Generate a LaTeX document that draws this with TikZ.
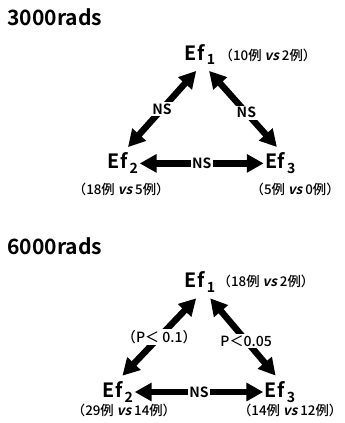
\documentclass[tikz,border=0pt]{standalone}
\usepackage{fontspec}
\setmainfont{Noto Sans CJK JP}[BoldFont={Noto Sans CJK JP Bold},
  ItalicFont={Noto Sans CJK JP},ItalicFeatures={FakeSlant=0.22},
  BoldItalicFont={Noto Sans CJK JP Bold},BoldItalicFeatures={FakeSlant=0.22}]
\newfontfamily\medfont{Noto Sans CJK JP Medium}[ItalicFont={Noto Sans CJK JP Bold},ItalicFeatures={FakeSlant=0.22}]
\usepackage{tikz}
\usetikzlibrary{arrows.meta,positioning}
\newcommand{\Ef}[1]{Ef\hspace{0.12em}\raisebox{-0.45ex}{\fontsize{10}{10}\selectfont #1}}
\newcommand{\vsx}{\textit{vs}}

\begin{document}
\begin{tikzpicture}[
  ef/.style={font=\bfseries\fontsize{14}{14}\selectfont, inner xsep=1pt, inner ysep=4pt},
  cnt/.style={font=\medfont\fontsize{9.5}{9.5}\selectfont, inner sep=1pt},
  ttl/.style={font=\bfseries\fontsize{15}{15}\selectfont, anchor=west, inner sep=0pt},
  lab/.style={fill=white, inner sep=1pt, font=\bfseries\fontsize{10}{10}\selectfont},
  plab/.style={fill=white, inner sep=1pt, font=\medfont\fontsize{10}{10}\selectfont},
  dbl/.style={line width=4.6pt, {Triangle[length=12pt,width=12.5pt]}-{Triangle[length=12pt,width=12.5pt]}}
]
\useasboundingbox (0,0) rectangle (8.6,10.575);

\node[ttl] (T1) at (0.175,10.15) {3000rads};
\node[ef] (A1) at (5.0,9.21) {\Ef{1}};
\node[ef] (A2) at (3.075,6.49) {\Ef{2}};
\node[ef] (A3) at (7.01,6.49) {\Ef{3}};
\node[cnt, anchor=west] (nA1) at (5.45,9.2) {（10例 \vsx{} 2例）};
\node[cnt] (nA2) at (3.03,5.83) {（18例 \vsx{} 5例）};
\node[cnt] (nA3) at (7.38,5.83) {（5例 \vsx{} 0例）};

\draw
	(A1.-103) edge[dbl] node[lab]{NS} (A2.73)
	(A1.-61) edge[dbl] node[lab, pos=0.55]{NS} (A3.102)
	(A2) edge[dbl] node[lab]{NS} (A3)
;

\node[ttl] (T2) at (0.175,4.425) {6000rads};
\node[ef] (B1) at (5.0,3.525) {\Ef{1}};
\node[ef] (B2) at (2.95,0.775) {\Ef{2}};
\node[ef] (B3) at (7.0,0.775) {\Ef{3}};
\node[cnt, anchor=west] (nB1) at (5.4,3.55) {（18例 \vsx{} 2例）};
\node[cnt] (nB2) at (3.1,0.325) {（29例 \vsx{} 14例）};
\node[cnt, anchor=east] (nB3) at (8.6,0.325) {（14例 \vsx{} 12例）};

\draw
	(B1.-103) edge[dbl] node[plab]{（P＜ 0.1）} (B2.75)
	(B1.-58) edge[dbl] node[plab, pos=0.55]{P＜0.05} (B3.105)
	(B2) edge[dbl] node[lab]{NS} (B3)
;
\end{tikzpicture}
\end{document}
